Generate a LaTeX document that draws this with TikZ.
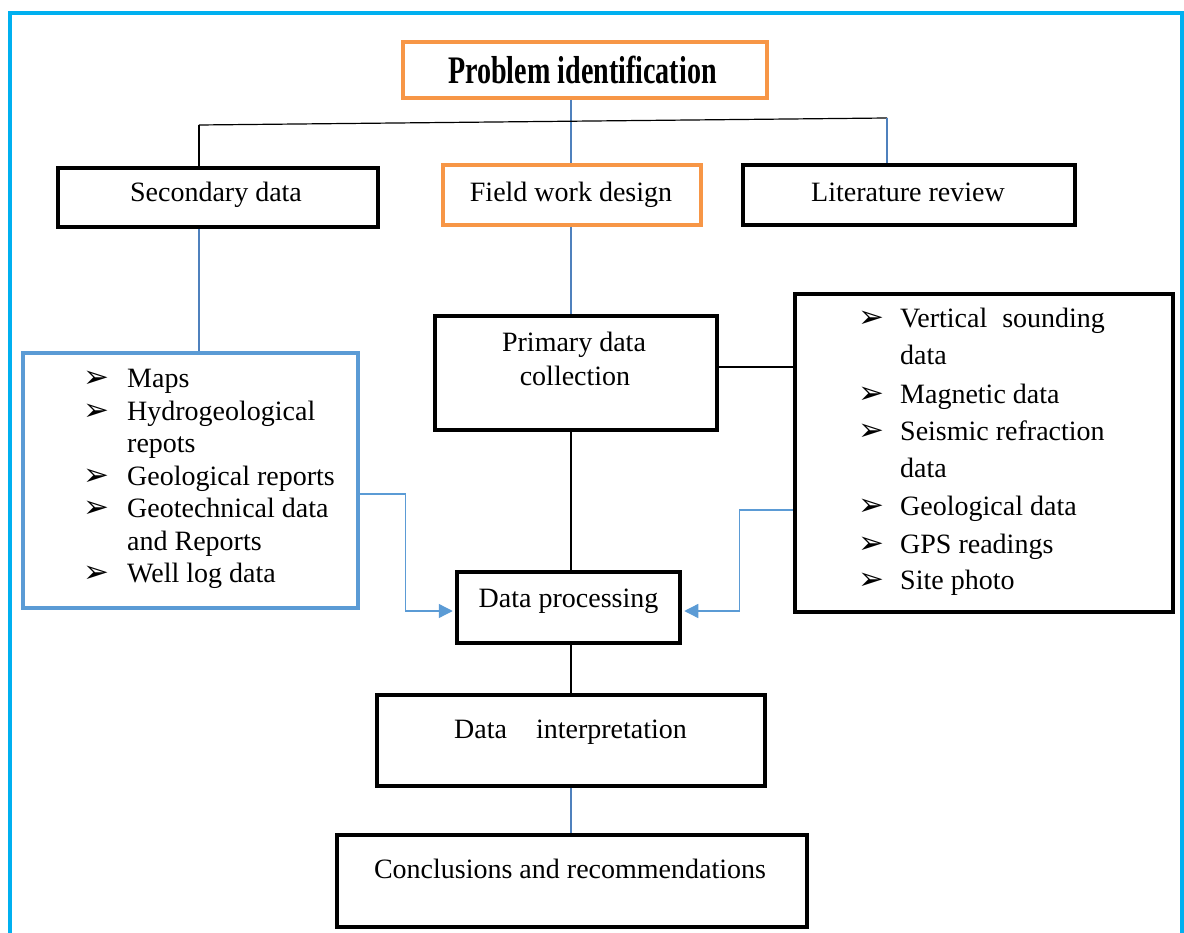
\documentclass[tikz,border=0pt]{standalone}
\usepackage{fontspec}
\setmainfont{Liberation Serif}
\newfontfamily\pifont{Liberation Serif}[FakeStretch=0.72]
\newfontfamily\symfont{DejaVu Sans}
\usetikzlibrary{arrows.meta}
\definecolor{frameblue}{HTML}{00B0F0}
\definecolor{orangeb}{HTML}{F79646}
\definecolor{boxblue}{HTML}{5B9BD5}
\definecolor{lineblue}{HTML}{4F81BD}
\begin{document}
\begin{tikzpicture}[x=1pt,y=-1pt,
  font=\fontsize{28}{32}\selectfont,
  kbox/.style={draw=black, line width=4.5pt, inner sep=0pt, rectangle},
  obox/.style={draw=orangeb, line width=3.5pt, inner sep=0pt, rectangle},
  bbox/.style={draw=boxblue, line width=4pt, inner sep=0pt, rectangle},
  txt/.style={anchor=base, inner sep=0pt},
  itm/.style={anchor=base west, inner sep=0pt},
  bul/.style={anchor=base west, inner sep=0pt, font=\symfont\fontsize{31}{31}\selectfont},
  conk/.style={draw=black, line width=1.2pt},
  conb/.style={draw=lineblue, line width=1.2pt},
  arr/.style={draw=boxblue, line width=1.3pt, shorten >=2pt, -{Triangle[length=14pt,width=14pt]}}
]
\useasboundingbox (0,0) rectangle (1184,933);
\begin{scope}
  \clip (0,0) rectangle (1184,933);
  \draw[frameblue, line width=4pt] (10,950) -- (10,13) -- (1182,13) -- (1182,950);
\end{scope}

% boxes
\node[obox, minimum width=364pt, minimum height=56pt] (pi) at (585,70) {};
\node[kbox, minimum width=320pt, minimum height=59pt] (sd) at (218,197.5) {};
\node[obox, minimum width=258pt, minimum height=60pt] (fw) at (572,195) {};
\node[kbox, minimum width=332pt, minimum height=60pt] (lr) at (909,195) {};
\node[bbox, minimum width=335pt, minimum height=255pt] (lb) at (190.5,480.5) {};
\node[kbox, minimum width=282pt, minimum height=114pt] (pd) at (576,373) {};
\node[kbox, minimum width=378pt, minimum height=318pt] (rb) at (984,453) {};
\node[kbox, minimum width=223pt, minimum height=71pt] (dp) at (568.5,607.5) {};
\node[kbox, minimum width=388pt, minimum height=91pt] (di) at (571,740.5) {};
\node[kbox, minimum width=470pt, minimum height=92pt] (cr) at (572,881) {};

% box texts
\node[txt, font=\pifont\bfseries\fontsize{39}{39}\selectfont] (tpi) at (582.5,84) {Problem identification};
\node[txt] (tsd) at (216,202) {Secondary data};
\node[txt] (tfw) at (571,202) {Field work design};
\node[txt] (tlr) at (908,202) {Literature review};
\node[txt] (tpd1) at (574,352) {Primary data};
\node[txt] (tpd2) at (575,386) {collection};
\node[txt] (tdp) at (568.5,607) {Data processing};
\node[anchor=base west, inner sep=0pt] (tdi) at (454,738) {Data\hspace{22pt} interpretation};
\node[txt] (tcr) at (570,878) {Conclusions and recommendations};

% left list
\foreach \t/\y/\b [count=\i] in {Maps/388/1, Hydrogeological/420.5/1, repots/452.5/0, Geological reports/485/1, Geotechnical data/517.5/1, and Reports/550/0, Well log data/582/1}{
  \ifnum\b=1 \node[bul] (lbb\i) at (83,\y) {➢}; \fi
  \node[itm] (lbt\i) at (127,\y) {\t};
}
% right list
\foreach \t/\y/\b [count=\i] in {Vertical\hspace{8pt} sounding/328/1, data/365/0, Magnetic data/403/1, Seismic refraction/440/1, data/477.5/0, Geological data/515/1, GPS readings/553/1, Site photo/589/1}{
  \ifnum\b=1 \node[bul] (rbb\i) at (858,\y) {➢}; \fi
  \node[itm] (rbt\i) at (900,\y) {\t};
}

% connectors
\coordinate (mx) at (571,0);
\coordinate (hl) at (199,125);
\coordinate (hr) at (887,118);
\draw[conb] (mx |- pi.south) -- (mx |- fw.north);
\draw[conk] (hl) -- (hr);
\draw[conk] (hl) -- (hl |- sd.north);
\draw[conb] (hr) -- (hr |- lr.north);
\draw[conb] (hl |- sd.south) -- (hl |- lb.north);
\draw[conb] (mx |- fw.south) -- (mx |- pd.north);
\draw[conk] ([yshift=6pt]pd.east) -- ([yshift=6pt]pd.east -| rb.west);
\draw[conk] (mx |- pd.south) -- (mx |- dp.north);
\draw[conk] (mx |- dp.south) -- (mx |- di.north);
\draw[conb] (mx |- di.south) -- (mx |- cr.north);
\draw[arr] ([yshift=-13.5pt]lb.east) -| ([xshift=-49pt,yshift=-3.5pt]dp.west) -- ([yshift=-3.5pt]dp.west);
\draw[arr] ([yshift=-57pt]rb.west) -| ([xshift=57pt,yshift=-3.5pt]dp.east) -- ([yshift=-3.5pt]dp.east);
\end{tikzpicture}
\end{document}
